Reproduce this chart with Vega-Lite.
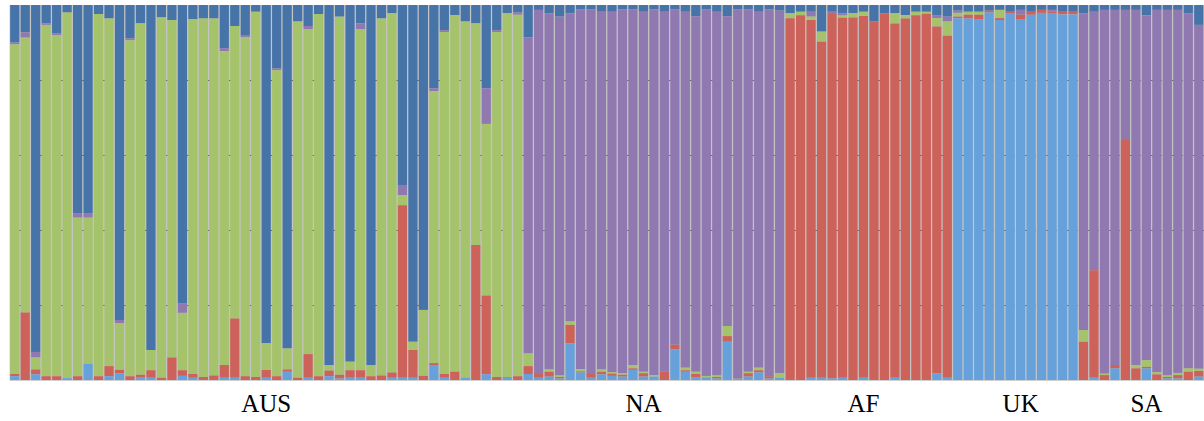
{
  "$schema": "https://vega.github.io/schema/vega-lite/v6.json",
  "autosize": {"type": "none"},
  "padding": {"left": 9.5, "top": 5, "right": 0, "bottom": 41},
  "width": 1194.5,
  "height": 375,
  "background": "white",
  "config": {"view": {"fill": "#c4c4c4", "stroke": "#d0d0d0", "strokeWidth": 1}},
  "data": {"values": [
    {"b":0,"K1":0.10,"K3":0.879,"K2":0.005,"K4":0.006,"K5":0.01},
    {"b":1,"K1":0.073,"K3":0.733,"K2":0.014,"K4":0.18,"K5":0},
    {"b":2,"K1":0.925,"K3":0.032,"K2":0.015,"K4":0.013,"K5":0.015},
    {"b":3,"K1":0.049,"K3":0.937,"K2":0.004,"K4":0.01,"K5":0},
    {"b":4,"K1":0.075,"K3":0.909,"K2":0.006,"K4":0.01,"K5":0},
    {"b":5,"K1":0.02,"K3":0.975,"K2":0,"K4":0,"K5":0.005},
    {"b":6,"K1":0.555,"K3":0.423,"K2":0.012,"K4":0.01,"K5":0},
    {"b":7,"K1":0.555,"K3":0.39,"K2":0.012,"K4":0,"K5":0.043},
    {"b":8,"K1":0.024,"K3":0.966,"K2":0,"K4":0.01,"K5":0},
    {"b":9,"K1":0.036,"K3":0.927,"K2":0,"K4":0.027,"K5":0.01},
    {"b":10,"K1":0.84,"K3":0.124,"K2":0.009,"K4":0.009,"K5":0.018},
    {"b":11,"K1":0.089,"K3":0.896,"K2":0.005,"K4":0.01,"K5":0},
    {"b":12,"K1":0.049,"K3":0.937,"K2":0,"K4":0.006,"K5":0.008},
    {"b":13,"K1":0.92,"K3":0.054,"K2":0,"K4":0.02,"K5":0.006},
    {"b":14,"K1":0.033,"K3":0.961,"K2":0,"K4":0.006,"K5":0},
    {"b":15,"K1":0.04,"K3":0.9,"K2":0,"K4":0.06,"K5":0},
    {"b":16,"K1":0.795,"K3":0.153,"K2":0.026,"K4":0.015,"K5":0.011},
    {"b":17,"K1":0.038,"K3":0.946,"K2":0,"K4":0.01,"K5":0.006},
    {"b":18,"K1":0.036,"K3":0.956,"K2":0,"K4":0.008,"K5":0},
    {"b":19,"K1":0.036,"K3":0.952,"K2":0,"K4":0.012,"K5":0},
    {"b":20,"K1":0.115,"K3":0.837,"K2":0.008,"K4":0.034,"K5":0.006},
    {"b":21,"K1":0.056,"K3":0.78,"K2":0,"K4":0.158,"K5":0.006},
    {"b":22,"K1":0.08,"K3":0.904,"K2":0.006,"K4":0.01,"K5":0},
    {"b":23,"K1":0.018,"K3":0.974,"K2":0,"K4":0.008,"K5":0},
    {"b":24,"K1":0.902,"K3":0.071,"K2":0,"K4":0.021,"K5":0.006},
    {"b":25,"K1":0.169,"K3":0.816,"K2":0.005,"K4":0.01,"K5":0},
    {"b":26,"K1":0.916,"K3":0.056,"K2":0,"K4":0.006,"K5":0.022},
    {"b":27,"K1":0.044,"K3":0.95,"K2":0,"K4":0.006,"K5":0},
    {"b":28,"K1":0.056,"K3":0.867,"K2":0.008,"K4":0.063,"K5":0.006},
    {"b":29,"K1":0.024,"K3":0.966,"K2":0,"K4":0.01,"K5":0},
    {"b":30,"K1":0.96,"K3":0.015,"K2":0,"K4":0.015,"K5":0.01},
    {"b":31,"K1":0.031,"K3":0.955,"K2":0,"K4":0.01,"K5":0.004},
    {"b":32,"K1":0.951,"K3":0.023,"K2":0,"K4":0.02,"K5":0.006},
    {"b":33,"K1":0.049,"K3":0.909,"K2":0.016,"K4":0.02,"K5":0.006},
    {"b":34,"K1":0.96,"K3":0.03,"K2":0,"K4":0.01,"K5":0},
    {"b":35,"K1":0.036,"K3":0.952,"K2":0,"K4":0.012,"K5":0},
    {"b":36,"K1":0.022,"K3":0.958,"K2":0,"K4":0.014,"K5":0.006},
    {"b":37,"K1":0.48,"K3":0.027,"K2":0.027,"K4":0.46,"K5":0.006},
    {"b":38,"K1":0.898,"K3":0.022,"K2":0,"K4":0.074,"K5":0.006},
    {"b":39,"K1":0.813,"K3":0.176,"K2":0,"K4":0.011,"K5":0},
    {"b":40,"K1":0.222,"K3":0.725,"K2":0.008,"K4":0.005,"K5":0.04},
    {"b":41,"K1":0.067,"K3":0.912,"K2":0.005,"K4":0.01,"K5":0.006},
    {"b":42,"K1":0.027,"K3":0.951,"K2":0,"K4":0.022,"K5":0},
    {"b":43,"K1":0.044,"K3":0.95,"K2":0,"K4":0,"K5":0.006},
    {"b":44,"K1":0.049,"K3":0.591,"K2":0,"K4":0.36,"K5":0},
    {"b":45,"K1":0.222,"K3":0.458,"K2":0.095,"K4":0.21,"K5":0.015},
    {"b":46,"K1":0.067,"K3":0.92,"K2":0.005,"K4":0.008,"K5":0},
    {"b":47,"K1":0.022,"K3":0.97,"K2":0,"K4":0,"K5":0.008},
    {"b":48,"K1":0.02,"K3":0.964,"K2":0.006,"K4":0.01,"K5":0},
    {"b":49,"K1":0.086,"K3":0.034,"K2":0.843,"K4":0.021,"K5":0.016},
    {"b":50,"K1":0.013,"K3":0,"K2":0.971,"K4":0.01,"K5":0.006},
    {"b":51,"K1":0.022,"K3":0.006,"K2":0.95,"K4":0.013,"K5":0.009},
    {"b":52,"K1":0.031,"K3":0.004,"K2":0.957,"K4":0.004,"K5":0.004},
    {"b":53,"K1":0.022,"K3":0.009,"K2":0.822,"K4":0.049,"K5":0.098},
    {"b":54,"K1":0.012,"K3":0.006,"K2":0.959,"K4":0.003,"K5":0.02},
    {"b":55,"K1":0.012,"K3":0,"K2":0.972,"K4":0.01,"K5":0.006},
    {"b":56,"K1":0.018,"K3":0.006,"K2":0.954,"K4":0.007,"K5":0.015},
    {"b":57,"K1":0.018,"K3":0.004,"K2":0.961,"K4":0.006,"K5":0.011},
    {"b":58,"K1":0.012,"K3":0.004,"K2":0.97,"K4":0.005,"K5":0.009},
    {"b":59,"K1":0.012,"K3":0.009,"K2":0.948,"K4":0.004,"K5":0.027},
    {"b":60,"K1":0.018,"K3":0.004,"K2":0.96,"K4":0.009,"K5":0.009},
    {"b":61,"K1":0.012,"K3":0.004,"K2":0.975,"K4":0,"K5":0.009},
    {"b":62,"K1":0.018,"K3":0,"K2":0.96,"K4":0.022,"K5":0},
    {"b":63,"K1":0.012,"K3":0,"K2":0.894,"K4":0.012,"K5":0.082},
    {"b":64,"K1":0.018,"K3":0.007,"K2":0.949,"K4":0.004,"K5":0.022},
    {"b":65,"K1":0.03,"K3":0.006,"K2":0.948,"K4":0.009,"K5":0.007},
    {"b":66,"K1":0.012,"K3":0.004,"K2":0.977,"K4":0,"K5":0.007},
    {"b":67,"K1":0.018,"K3":0.004,"K2":0.97,"K4":0.004,"K5":0.004},
    {"b":68,"K1":0.03,"K3":0.027,"K2":0.826,"K4":0.015,"K5":0.102},
    {"b":69,"K1":0.012,"K3":0,"K2":0.98,"K4":0.004,"K5":0.004},
    {"b":70,"K1":0.012,"K3":0.004,"K2":0.966,"K4":0.009,"K5":0.009},
    {"b":71,"K1":0.018,"K3":0.007,"K2":0.949,"K4":0.006,"K5":0.02},
    {"b":72,"K1":0.012,"K3":0,"K2":0.978,"K4":0.006,"K5":0.004},
    {"b":73,"K1":0.015,"K3":0.012,"K2":0.967,"K4":0,"K5":0.006},
    {"b":74,"K1":0.022,"K3":0.013,"K2":0,"K4":0.965,"K5":0},
    {"b":75,"K1":0.018,"K3":0.009,"K2":0,"K4":0.973,"K5":0},
    {"b":76,"K1":0.018,"K3":0.009,"K2":0.013,"K4":0.954,"K5":0.006},
    {"b":77,"K1":0.071,"K3":0.027,"K2":0,"K4":0.896,"K5":0.006},
    {"b":78,"K1":0.018,"K3":0,"K2":0.006,"K4":0.972,"K5":0.004},
    {"b":79,"K1":0.022,"K3":0.006,"K2":0.006,"K4":0.96,"K5":0.006},
    {"b":80,"K1":0.022,"K3":0.011,"K2":0,"K4":0.967,"K5":0},
    {"b":81,"K1":0.018,"K3":0.011,"K2":0,"K4":0.965,"K5":0.006},
    {"b":82,"K1":0.044,"K3":0,"K2":0,"K4":0.956,"K5":0},
    {"b":83,"K1":0.022,"K3":0,"K2":0,"K4":0.978,"K5":0},
    {"b":84,"K1":0.022,"K3":0.027,"K2":0,"K4":0.945,"K5":0.006},
    {"b":85,"K1":0.027,"K3":0.009,"K2":0,"K4":0.964,"K5":0},
    {"b":86,"K1":0.018,"K3":0.009,"K2":0,"K4":0.973,"K5":0},
    {"b":87,"K1":0.018,"K3":0.005,"K2":0,"K4":0.977,"K5":0},
    {"b":88,"K1":0.027,"K3":0.022,"K2":0.008,"K4":0.925,"K5":0.018},
    {"b":89,"K1":0.031,"K3":0.038,"K2":0.013,"K4":0.912,"K5":0.006},
    {"b":90,"K1":0.015,"K3":0.01,"K2":0.006,"K4":0.004,"K5":0.965},
    {"b":91,"K1":0.018,"K3":0.008,"K2":0,"K4":0.01,"K5":0.964},
    {"b":92,"K1":0.018,"K3":0.008,"K2":0,"K4":0.013,"K5":0.961},
    {"b":93,"K1":0.015,"K3":0,"K2":0,"K4":0.005,"K5":0.98},
    {"b":94,"K1":0.013,"K3":0.022,"K2":0,"K4":0.005,"K5":0.96},
    {"b":95,"K1":0.018,"K3":0,"K2":0,"K4":0.005,"K5":0.977},
    {"b":96,"K1":0.013,"K3":0,"K2":0.013,"K4":0.013,"K5":0.961},
    {"b":97,"K1":0.018,"K3":0,"K2":0,"K4":0.008,"K5":0.974},
    {"b":98,"K1":0.013,"K3":0,"K2":0,"K4":0.008,"K5":0.979},
    {"b":99,"K1":0.013,"K3":0,"K2":0.004,"K4":0.006,"K5":0.977},
    {"b":100,"K1":0.018,"K3":0,"K2":0,"K4":0.007,"K5":0.975},
    {"b":101,"K1":0.018,"K3":0,"K2":0,"K4":0.007,"K5":0.975},
    {"b":102,"K1":0.022,"K3":0.031,"K2":0.845,"K4":0.102,"K5":0},
    {"b":103,"K1":0.018,"K3":0,"K2":0.689,"K4":0.287,"K5":0.006},
    {"b":104,"K1":0.013,"K3":0.004,"K2":0.97,"K4":0.013,"K5":0},
    {"b":105,"K1":0.013,"K3":0,"K2":0.947,"K4":0.009,"K5":0.031},
    {"b":106,"K1":0.013,"K3":0,"K2":0.347,"K4":0.64,"K5":0},
    {"b":107,"K1":0.013,"K3":0.009,"K2":0.947,"K4":0.031,"K5":0},
    {"b":108,"K1":0.027,"K3":0.018,"K2":0.92,"K4":0.004,"K5":0.031},
    {"b":109,"K1":0.013,"K3":0.006,"K2":0.966,"K4":0.015,"K5":0},
    {"b":110,"K1":0.013,"K3":0.004,"K2":0.975,"K4":0.004,"K5":0.004},
    {"b":111,"K1":0.013,"K3":0.006,"K2":0.968,"K4":0.009,"K5":0.004},
    {"b":112,"K1":0.022,"K3":0.009,"K2":0.947,"K4":0.022,"K5":0},
    {"b":113,"K1":0.053,"K3":0.006,"K2":0.917,"K4":0.015,"K5":0.009}
  ]},
  "transform": [{"fold": ["K1", "K2", "K3", "K4", "K5"], "as": ["k", "v"]}],
  "mark": {"type": "bar"},
  "encoding": {
    "x": {
      "field": "b", "type": "ordinal",
      "scale": {"paddingInner": 0.12, "paddingOuter": 0.06},
      "axis": {
        "title": null, "ticks": false, "domain": false, "grid": false,
        "labelAngle": 0, "labelOverlap": false,
        "labelFont": "Liberation Serif", "labelFontSize": 25, "labelColor": "#000000",
        "labelBaseline": "alphabetic", "labelPadding": 31,
        "labelExpr": "datum.value == 24 ? 'AUS' : datum.value == 60 ? 'NA' : datum.value == 81 ? 'AF' : datum.value == 96 ? 'UK' : datum.value == 108 ? 'SA' : ''"
      }
    },
    "y": {
      "field": "v", "type": "quantitative", "stack": "zero",
      "scale": {"domain": [0, 1], "nice": false},
      "axis": {
        "title": null, "labels": false, "ticks": false, "domain": false,
        "values": [0.2, 0.4, 0.6, 0.8],
        "grid": true, "gridColor": "#6e6e6e", "gridDash": [4, 3], "gridWidth": 1
      }
    },
    "color": {
      "field": "k", "type": "nominal",
      "scale": {
        "domain": ["K1", "K2", "K3", "K4", "K5"],
        "range": ["#4674a8", "#9079b1", "#a5c36b", "#cc6259", "#66a1db"]
      },
      "legend": null
    }
  }
}
